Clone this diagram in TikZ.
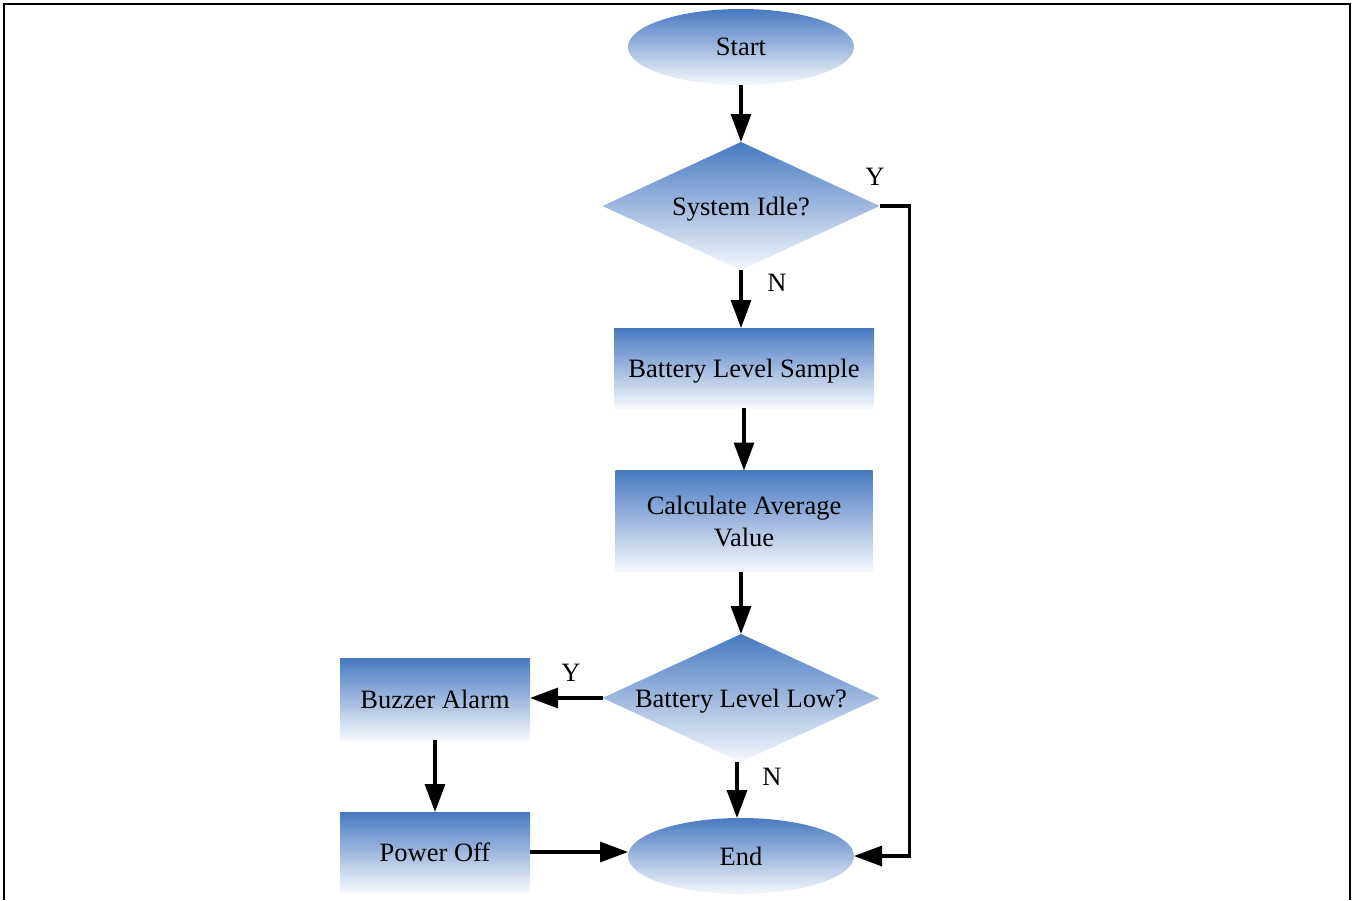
\documentclass[tikz,border=0pt]{standalone}
\usepackage{fontspec}
\setmainfont{Liberation Serif}
\usetikzlibrary{shapes.geometric,arrows.meta}
\definecolor{shadetop}{RGB}{72,121,193}
\definecolor{shadebot}{RGB}{246,248,252}
\begin{document}
\begin{tikzpicture}[x=1pt,y=1pt,
  every node/.style={font=\fontsize{26.5}{32}\selectfont, inner sep=0pt, outer sep=0pt},
  shaded/.style={top color=shadetop, bottom color=shadebot, draw=none, text depth=0pt},
  terminal/.style={shaded, ellipse, minimum width=226pt, minimum height=76pt},
  decision/.style={shaded, diamond, aspect=2.16, minimum width=277pt, minimum height=128pt},
  process/.style={shaded, rectangle, align=center},
  flow/.style={line width=3.2pt, -{Triangle[length=28pt,width=20pt]}}
]
\useasboundingbox (0,0) rectangle (1356,-900);
% frame (open at the bottom edge)
\draw[line width=2.6pt] (4,-900) -- (4,-4) -- (1350,-4) -- (1350,-900);

% nodes
\node[terminal] (start) at (741,-47) {Start};
\node[decision] (idle) at (741,-206) {System Idle?};
\node[process, minimum width=260pt, minimum height=80pt] (sample) at (744,-368) {Battery Level Sample};
\node[process, minimum width=257pt, minimum height=101pt] (avg) at (744,-521) {Calculate Average\\Value};
\node[decision] (low) at (741,-698) {Battery Level Low?};
\node[process, minimum width=190pt, minimum height=82pt] (buzz) at (435,-699) {Buzzer Alarm};
\node[process, minimum width=190pt, minimum height=80pt] (off) at (435,-852) {Power Off};
\node[terminal] (end) at (741,-856) {End};

% branch labels
\node (idleY) at (875,-177) {Y};
\node (idleN) at (777,-283) {N};
\node (lowY) at (571,-673) {Y};
\node (lowN) at (772,-777) {N};

% connectors
\draw[flow] (start) -- (idle);
\draw[flow] (idle.south) -- (idle.south |- sample.north);
\draw[flow] (sample) -- (avg);
\draw[flow] (avg.south -| low.north) -- (low);
\draw[flow] (low.west) -- (low.west -| buzz.east);
\draw[flow] (buzz) -- (off);
\draw[flow] (off.east) -- (off.east -| end.west);
\draw[flow] ([xshift=-4pt]low.south) -- ([xshift=-4pt]end.north);
\draw[flow] (idle.east) -- ++(30,0) |- (end.east);
\end{tikzpicture}
\end{document}
